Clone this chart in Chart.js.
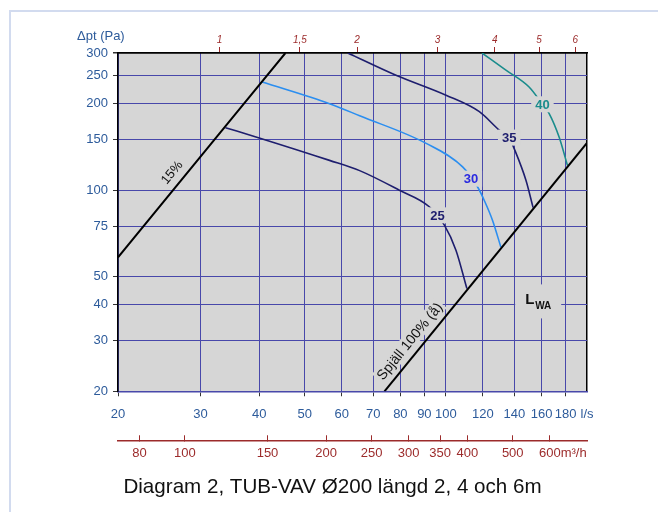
<!DOCTYPE html>
<html>
<head>
<meta charset="utf-8">
<script src="https://cdn.jsdelivr.net/npm/chart.js@4.4.0/dist/chart.umd.min.js"></script>
<style>
  html, body { margin: 0; padding: 0; background: #fff; }
  #wrap { position: relative; width: 658px; height: 512px; overflow: hidden; }
  #frame { position: absolute; left: 9px; top: 10px; right: -10px; bottom: -10px;
           border-left: 2px solid #d2dbef; border-top: 2px solid #d2dbef; }
  canvas { position: absolute; left: 0; top: 0; }
</style>
</head>
<body>
<div id="wrap"><div id="frame"></div><canvas id="chart" width="658" height="512"></canvas></div>
<script>
// Axlar
const flowTicks = [20, 30, 40, 50, 60, 70, 80, 90, 100, 120, 140, 160, 180];
const pressureTicks = [20, 30, 40, 50, 75, 100, 150, 200, 250, 300];
const velocityTicks = [1, 1.5, 2, 3, 4, 5, 6];
const airflowM3hTicks = [80, 100, 150, 200, 250, 300, 350, 400, 500, 600];

// Ljudnivå LWA (l/s -> Pa)
const lwa25Flow = [33.9, 40, 56.5, 65.5, 79.6, 92.2, 99.3, 105.1, 110.9];
const lwa25Dp = [165, 152, 127, 117, 100, 87.6, 75.6, 61.9, 45.5];
const lwa30Flow = [40.6, 56.5, 65.5, 90.8, 108.6, 116.9, 120.8, 125.8, 131];
const lwa30Dp = [238, 200, 181.5, 145.5, 120.5, 102.6, 92.1, 78.5, 63.5];
const lwa35Flow = [61.8, 78.3, 100.1, 117.9, 130, 136.5, 139.9, 148.2, 153.5];
const lwa35Dp = [300, 251, 214, 187.5, 161.8, 152.4, 139.5, 108.3, 87];
const lwa40Flow = [119.4, 134.3, 150.5, 160.7, 166, 174.4, 181.7];
const lwa40Dp = [300, 261.6, 228.5, 199, 185, 153, 122];

// Spjällägen
const damper15Flow = [20, 45.5];
const damper15Dp = [58.4, 300];
const damper100Flow = [74, 200];
const damper100Dp = [20, 146];

const ductArea = Math.PI * 0.1 * 0.1 * 1000; // l/s per m/s, Ø200

const NAVY = '#1e1e6e';
const GRID = '#4848aa';
const BLUE_TXT = '#2d5b9b';
const RED = '#9c2b2b';
const PLOT_BG = '#d6d6d6';
const FONT = "'Liberation Sans', Arial, sans-serif";

const toPoints = (xs, ys) => xs.map((x, i) => ({ x: x, y: ys[i] }));

// Etiketter på kurvorna
const curveLabels = [
    { text: '25', flow: 96, dp: 81.8, color: NAVY },
    { text: '30', flow: 113.1, dp: 109.7, color: '#2a2ae0' },
    { text: '35', flow: 136.5, dp: 152.4, color: NAVY },
    { text: '40', flow: 160.7, dp: 199, color: '#1a8c8c' }
];
const lineLabels = [
    { text: '15%', flow: 26.0, dp: 115.6, size: 13, line: [damper15Flow, damper15Dp] },
    { text: 'Spjäll 100% (å)', flow: 83.6, dp: 29.9, size: 14, line: [damper100Flow, damper100Dp] }
];

const decorations = {
    id: 'decorations',
    beforeDraw(chart) {
        const { ctx, chartArea: a } = chart;
        ctx.save();
        ctx.fillStyle = PLOT_BG;
        ctx.fillRect(a.left, a.top, a.right - a.left, a.bottom - a.top);
        ctx.restore();
    },
    afterDatasetsDraw(chart) {
        const ctx = chart.ctx;
        const sx = chart.scales.x, sy = chart.scales.y;

        curveLabels.forEach(l => {
            const x = sx.getPixelForValue(l.flow), y = sy.getPixelForValue(l.dp);
            ctx.save();
            ctx.font = 'bold 13px ' + FONT;
            const w = ctx.measureText(l.text).width;
            ctx.fillStyle = PLOT_BG;
            ctx.fillRect(x - w / 2 - 4, y - 8, w + 8, 16);
            ctx.fillStyle = l.color;
            ctx.textAlign = 'center';
            ctx.textBaseline = 'middle';
            ctx.fillText(l.text, x, y + 1);
            ctx.restore();
        });

        lineLabels.forEach(l => {
            const x = sx.getPixelForValue(l.flow), y = sy.getPixelForValue(l.dp);
            const [fx, fy] = l.line;
            const angle = Math.atan2(sy.getPixelForValue(fy[1]) - sy.getPixelForValue(fy[0]),
                                     sx.getPixelForValue(fx[1]) - sx.getPixelForValue(fx[0]));
            ctx.save();
            ctx.translate(x, y);
            ctx.rotate(angle);
            ctx.font = l.size + 'px ' + FONT;
            const w = ctx.measureText(l.text).width;
            ctx.fillStyle = PLOT_BG;
            ctx.fillRect(-w / 2 - 2, -8, w + 4, 16);
            ctx.fillStyle = '#111';
            ctx.textAlign = 'center';
            ctx.textBaseline = 'middle';
            ctx.fillText(l.text, 0, 1);
            ctx.restore();
        });

        // LWA
        const lx = sx.getPixelForValue(156.6), ly = sy.getPixelForValue(41.4);
        ctx.save();
        ctx.fillStyle = PLOT_BG;
        ctx.fillRect(lx - 22, ly - 16, 46, 34);
        ctx.fillStyle = '#111';
        ctx.textBaseline = 'alphabetic';
        ctx.font = 'bold 15px ' + FONT;
        ctx.fillText('L', lx - 12, ly + 4);
        ctx.font = 'bold 10px ' + FONT;
        ctx.fillText('WA', lx - 2, ly + 9);
        ctx.restore();
    },
    afterDraw(chart) {
        const ctx = chart.ctx;
        ctx.save();
        ctx.font = '13px ' + FONT;
        ctx.fillStyle = BLUE_TXT;
        ctx.textBaseline = 'middle';
        ctx.fillText('\u0394pt (Pa)', chart.scales.y.left - 1, chart.chartArea.top - 17);
        const s = chart.scales.xM3h;
        const x600 = s.getPixelForValue(600);
        ctx.fillStyle = RED;
        ctx.fillText('m\u00b3/h', x600 + ctx.measureText('600').width / 2, s.top + 13);
        ctx.restore();
    }
};

const lineSet = (xs, ys, color, width) => ({
    data: toPoints(xs, ys), borderColor: color, borderWidth: width,
    xAxisID: 'x', yAxisID: 'y', pointRadius: 0
});

const ctx = document.getElementById('chart').getContext('2d');
new Chart(ctx, {
    type: 'line',
    data: {
        datasets: [
            lineSet(damper15Flow, damper15Dp, '#000', 2),
            lineSet(damper100Flow, damper100Dp, '#000', 2),
            lineSet(lwa25Flow, lwa25Dp, NAVY, 1.6),
            lineSet(lwa30Flow, lwa30Dp, '#2b8ef0', 1.6),
            lineSet(lwa35Flow, lwa35Dp, NAVY, 1.6),
            lineSet(lwa40Flow, lwa40Dp, '#1a8c8c', 1.6)
        ]
    },
    options: {
        responsive: false,
        animation: false,
        layout: { padding: { left: 78, right: 71, top: 25, bottom: 12 } },
        elements: { line: { cubicInterpolationMode: 'monotone', fill: false } },
        plugins: {
            legend: { display: false },
            tooltip: { enabled: false },
            title: {
                display: true,
                position: 'bottom',
                text: 'Diagram 2, TUB-VAV Ø200 längd 2, 4 och 6m',
                color: '#111',
                font: { family: FONT, size: 20.6, weight: 'normal' },
                padding: { top: 10, bottom: 0 }
            }
        },
        scales: {
            x: {
                type: 'logarithmic', axis: 'x', position: 'bottom', weight: 0,
                min: 20, max: 200,
                afterBuildTicks: s => { s.ticks = flowTicks.concat([200]).map(v => ({ value: v })); },
                afterFit: s => { s.height = 49; },
                ticks: {
                    autoSkip: false, maxRotation: 0, padding: 10, color: BLUE_TXT,
                    font: { family: FONT, size: 13 },
                    callback: v => v === 200 ? 'l/s' : String(v)
                },
                grid: {
                    color: c => c.tick && c.tick.value === 200 ? '#000' : GRID,
                    lineWidth: c => c.tick && c.tick.value === 200 ? 1.5 : 1,
                    tickColor: c => c.tick && c.tick.value === 200 ? 'rgba(0,0,0,0)' : '#333',
                    tickLength: 5
                },
                border: { color: GRID, width: 1.5 }
            },
            xM3h: {
                type: 'logarithmic', axis: 'x', position: 'bottom', weight: 1,
                min: 20 * 3.6, max: 200 * 3.6,
                afterBuildTicks: s => { s.ticks = airflowM3hTicks.map(v => ({ value: v })); },
                afterFit: s => { s.height = 25; },
                ticks: {
                    autoSkip: false, maxRotation: 0, padding: 10, color: RED,
                    font: { family: FONT, size: 13 },
                    callback: v => String(v)
                },
                grid: { drawOnChartArea: false, tickLength: -5, color: RED, tickColor: RED },
                border: { color: RED, width: 1.5 }
            },
            xTop: {
                type: 'logarithmic', axis: 'x', position: 'top',
                min: 20 / ductArea, max: 200 / ductArea,
                afterBuildTicks: s => { s.ticks = velocityTicks.map(v => ({ value: v })); },
                afterFit: s => { s.height = 28; },
                ticks: {
                    autoSkip: false, maxRotation: 0, padding: 1, color: RED,
                    font: { family: FONT, size: 10, style: 'italic' },
                    callback: v => String(v).replace('.', ',')
                },
                grid: { drawOnChartArea: false, tickLength: 6, color: RED, tickColor: RED },
                border: { color: '#000', width: 1.5 }
            },
            y: {
                type: 'logarithmic', axis: 'y', position: 'left',
                min: 20, max: 300,
                afterBuildTicks: s => { s.ticks = pressureTicks.map(v => ({ value: v })); },
                afterFit: s => { s.width = 40; },
                ticks: {
                    autoSkip: false, padding: 5, color: BLUE_TXT,
                    font: { family: FONT, size: 13 },
                    callback: v => String(v)
                },
                grid: {
                    color: c => c.tick && c.tick.value === 300 ? '#000' : GRID,
                    lineWidth: c => c.tick && c.tick.value === 300 ? 1.5 : 1,
                    tickColor: '#333',
                    tickLength: 5
                },
                border: { color: '#000', width: 1.5 }
            }
        }
    },
    plugins: [decorations]
});
</script>
</body>
</html>
